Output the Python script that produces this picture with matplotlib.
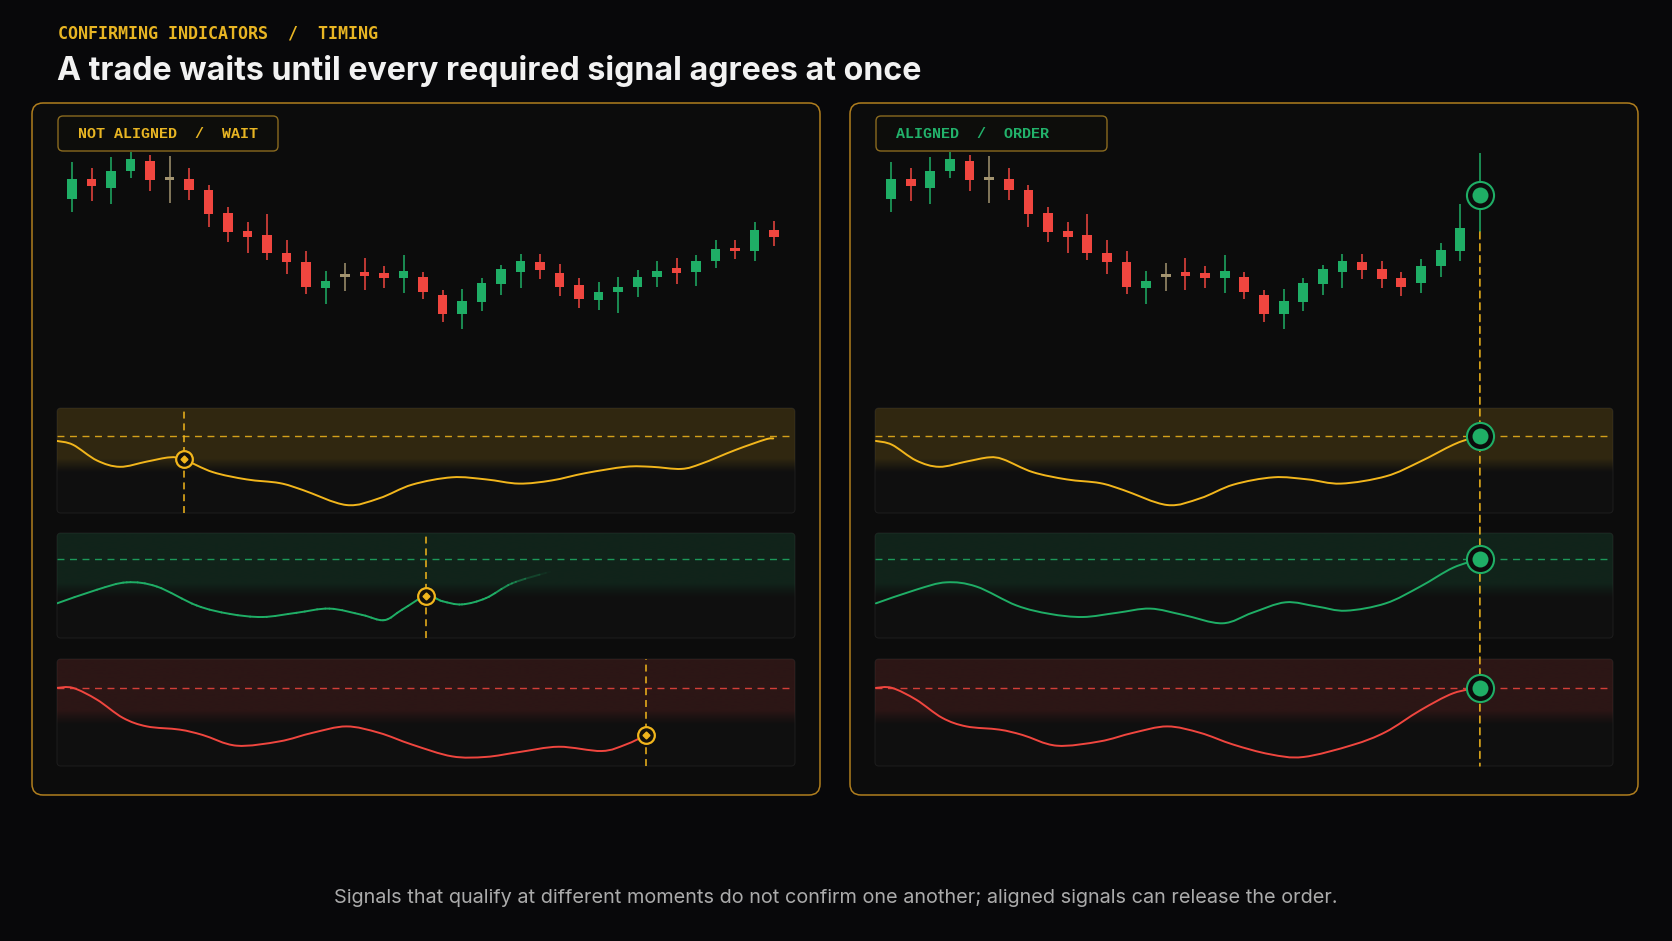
import numpy as np
import matplotlib
matplotlib.use("Agg")
import matplotlib.pyplot as plt
from matplotlib.patches import FancyBboxPatch, ConnectionPatch, PathPatch
from matplotlib.path import Path
from matplotlib.collections import LineCollection
from matplotlib.colors import to_rgba
from matplotlib.transforms import IdentityTransform

plt.rcParams['lines.scale_dashes'] = False

# ---------------- text ----------------
KICKER = "CONFIRMING INDICATORS  /  TIMING"
TITLE = "A trade waits until every required signal agrees at once"
FOOTER = ("Signals that qualify at different moments do not confirm one another; "
          "aligned signals can release the order.")
BADGES = ["NOT ALIGNED  /  WAIT", "ALIGNED  /  ORDER"]

# ---------------- price data (bar index 0..n-1) ----------------
wait_open  = [114.1,116.1,115.2,116.9,117.9,116.2,116.1,115.0,112.7,110.9,110.5,108.7,107.8,105.2,106.5,106.8,106.7,106.2,106.3,104.5,102.6,103.8,105.6,106.8,107.8,106.7,105.5,104.0,104.8,105.3,106.3,107.2,106.8,107.9,109.2,108.9,111.0]
wait_high  = [117.8,117.2,118.3,118.8,118.5,118.4,117.2,115.5,113.3,111.8,112.6,110.0,108.9,106.9,107.7,108.2,107.4,108.5,106.8,105.0,105.1,106.2,107.5,108.6,108.6,107.6,106.2,105.8,106.3,107.0,107.9,108.2,108.5,110.0,110.0,111.8,111.9]
wait_low   = [112.8,113.9,113.6,116.2,114.9,113.7,114.0,111.3,109.8,108.7,108.0,106.6,104.6,103.6,104.9,105.0,105.2,104.7,104.1,101.8,101.1,102.9,104.5,105.2,106.1,104.4,103.2,103.0,102.7,104.3,105.3,105.6,105.4,107.2,108.1,107.9,109.4]
wait_close = [116.1,115.4,116.9,118.1,116.0,116.1,115.0,112.6,110.8,110.3,108.7,107.8,105.3,105.9,106.4,106.4,106.2,106.9,104.8,102.6,103.9,105.7,107.1,107.9,107.0,105.3,104.1,104.8,105.3,106.3,106.9,106.7,107.9,109.1,108.9,111.0,110.3]

order_open  = [114.1,116.1,115.2,116.9,117.9,116.2,116.1,115.0,112.7,110.9,110.5,108.7,107.8,105.2,106.5,106.8,106.7,106.2,106.3,104.5,102.6,103.8,105.6,106.8,107.8,107.1,106.2,105.7,107.4,108.9,113.6]
order_high  = [117.8,117.2,118.3,118.8,118.5,118.4,117.2,115.5,113.3,111.8,112.6,110.0,108.9,106.9,107.7,108.2,107.4,108.5,106.8,105.0,105.1,106.2,107.5,108.6,108.6,107.9,106.8,108.1,109.7,113.6,118.7]
order_low   = [112.8,113.9,113.6,116.2,114.9,113.7,114.0,111.3,109.8,108.7,108.0,106.6,104.6,103.6,104.9,105.0,105.2,104.7,104.1,101.8,101.1,102.9,104.5,105.2,106.1,105.2,104.4,104.7,106.3,107.9,110.8]
order_close = [116.1,115.4,116.9,118.1,116.0,116.1,115.0,112.6,110.8,110.3,108.7,107.8,105.3,105.9,106.4,106.4,106.2,106.9,104.8,102.6,103.9,105.7,107.1,107.9,107.0,106.1,105.3,107.4,109.0,111.2,115.4]

# ---------------- indicator data (x in bar-index units, value 0..100) ----------------
thresholds = [73, 75, 73]
zone_floor = [46, 46, 46]

wait_ind1_x = [-0.77,0.05,1.28,2.46,3.84,5.01,5.73,7.21,8.95,10.64,11.82,14.07,15.75,17.44,19.49,21.23,22.92,24.6,26.34,28.39,29.72,31.25,32.28,34.02,35.55,35.96]
wait_ind1_v = [68.6,65,50,44,49,53,51,39,32,28.5,22,7.6,14,27,34,32,28,31,38,44,44,42,47,60,70,71]
wait_ind2_x = [-0.77,1.28,2.81,4.35,6.39,8.08,9.77,11.51,13.2,14.88,16.01,16.93,18.16,19.0,20.0,21.23,22.56,24.3,24.6]
wait_ind2_v = [33,46,53,49,31,23,20,24,28,22,17,27,40,35,32,38,52,62,63]
wait_ind3_x = [-0.77,0.05,1.28,2.61,3.84,5.52,6.7,8.44,10.64,12.33,14.07,15.75,17.44,19.49,21.23,22.92,24.96,27.16,28.39,29.46]
wait_ind3_v = [73,73,62,45,37,34,29,19,23,31,37,31,20,9,8.5,13,18,14,20,29]
wait_cross_x = [5.73, 18.16, 29.46]

order_ind1_x = [-0.77,0.05,1.28,2.46,3.84,5.01,5.73,7.21,8.95,10.64,11.82,14.07,15.75,17.44,19.49,21.23,22.92,25.22,26.96,28.64,29.6,30.0]
order_ind1_v = [68.6,65,50,44,49,53,51,39,32,28.5,22,7.6,14,27,34,32,28,35,49,65,71.5,73]
order_ind2_x = [-0.77,1.28,2.81,4.35,6.39,8.08,9.77,11.51,13.2,14.88,16.88,18.4,20.1,21.7,23.17,25.2,26.96,28.64,30.0]
order_ind2_v = [33,46,53,49,31,23,20,24,28,22,14,24,34,30,26,33,49,67,75]
order_ind3_x = [-0.77,0.05,1.28,2.61,3.84,5.52,6.7,8.44,10.64,12.33,14.07,15.75,17.44,19.3,21.0,23.5,25.2,26.96,28.64,30.0]
order_ind3_v = [73,73,62,45,37,34,29,19,23,31,37,31,20,11,8.4,19.6,31.8,52,68,73]
order_signal_bar = 30

# ---------------- style ----------------
W, H, DPI = 1672, 941, 100
BG = '#08080a'
PANEL = '#0c0c0c'
PANEL_EDGE = '#b07e1e'
STRIP = '#0f0f0f'
STRIP_EDGE = '#1c1c1c'
GOLD = '#f2b61c'
GREEN = '#1fae66'
RED = '#f0463f'
DOJI = '#a39470'
IND_COLORS = [GOLD, GREEN, RED]
BAND_ALPHA = [0.15, 0.13, 0.13]

fig = plt.figure(figsize=(W / DPI, H / DPI), dpi=DPI, facecolor=BG)


def frac(x0, y0, x1, y1):
    return [x0 / W, 1 - y1 / H, (x1 - x0) / W, (y1 - y0) / H]


bg = fig.add_axes([0, 0, 1, 1])
bg.set_xlim(0, W)
bg.set_ylim(H, 0)
bg.axis('off')

# header / footer
bg.text(58, 33, KICKER, color='#e8b523', fontsize=12, family='DejaVu Sans Mono',
        weight='bold', va='center', ha='left')
bg.text(57, 71, TITLE, color='#f2f2f2', fontsize=23.2, family='Inter', weight='bold',
        va='center', ha='left')
bg.text(W / 2, 898, FOOTER, color='#ababab', fontsize=14.3, family='Inter',
        va='center', ha='center')


def catmull(xs, vs):
    pts = np.column_stack([xs, vs]).astype(float)
    n = len(pts)
    verts = [pts[0]]
    codes = [Path.MOVETO]
    for i in range(n - 1):
        p0 = pts[i - 1] if i > 0 else pts[i]
        p1 = pts[i]
        p2 = pts[i + 1]
        p3 = pts[i + 2] if i + 2 < n else pts[i + 1]
        verts += [p1 + (p2 - p0) / 6, p2 - (p3 - p1) / 6, p2]
        codes += [Path.CURVE4] * 3
    return Path(verts, codes)


def draw_curve(ax, xs, vs, color, lw=1.4, fade_from=None, zorder=3):
    path = catmull(xs, vs)
    if fade_from is None:
        ax.add_patch(PathPatch(path, fill=False, ec=color, lw=lw, capstyle='round',
                               joinstyle='round', zorder=zorder))
        return
    poly = path.to_polygons(transform=ax.transData, closed_only=False)[0]
    xf = ax.transData.transform((fade_from, 0))[0]
    xend = poly[-1, 0]
    segs = np.stack([poly[:-1], poly[1:]], axis=1)
    mid = segs[:, :, 0].mean(axis=1)
    alpha = np.clip((xend - mid) / (xend - xf), 0, 1) ** 1.3
    rgba = np.tile(np.array(to_rgba(color)), (len(segs), 1))
    rgba[:, 3] = alpha
    lc = LineCollection(segs, colors=rgba, linewidths=lw, transform=IdentityTransform(),
                        zorder=zorder, capstyle='round')
    ax.add_collection(lc, autolim=False)


def band(color, a_max, floor):
    v = np.linspace(100, 0, 400)
    a = a_max * np.clip((v - (floor - 8)) / 14, 0, 1) ** 1.2
    img = np.zeros((400, 1, 4))
    img[..., :3] = to_rgba(color)[:3]
    img[..., 3] = a[:, None]
    return img


def draw_candles(ax, o, h, l, c):
    x = np.arange(len(o))
    o, h, l, c = map(np.asarray, (o, h, l, c))
    cols = [DOJI if abs(ci - oi) < 0.15 else (GREEN if ci > oi else RED) for oi, ci in zip(o, c)]
    ax.vlines(x, l, h, colors=cols, lw=1.1, zorder=2)
    body = np.maximum(np.abs(c - o), 0.3)
    mid = (o + c) / 2
    ax.bar(x, body, bottom=mid - body / 2, width=0.5, color=cols, zorder=3, linewidth=0)


STRIP_Y = [(408, 513), (533, 638), (659, 766)]
PANELS = [
    dict(px=32, badge_w=220, text_col='#e8b523', label=BADGES[0],
         xlim=(-0.77, -0.77 + 738 / 19.5),
         ohlc=(wait_open, wait_high, wait_low, wait_close),
         inds=[(wait_ind1_x, wait_ind1_v), (wait_ind2_x, wait_ind2_v), (wait_ind3_x, wait_ind3_v)],
         fades=[None, 21.6, None]),
    dict(px=850, badge_w=231, text_col='#22b26b', label=BADGES[1],
         xlim=(-0.815, -0.815 + 738 / 19.63),
         ohlc=(order_open, order_high, order_low, order_close),
         inds=[(order_ind1_x, order_ind1_v), (order_ind2_x, order_ind2_v), (order_ind3_x, order_ind3_v)],
         fades=[None, None, None]),
]

panel_axes = []
for k, P in enumerate(PANELS):
    px = P['px']
    XL = P['xlim']
    bg.add_patch(FancyBboxPatch((px, 103), 788, 692, boxstyle="round,pad=0,rounding_size=11",
                                fc=PANEL, ec=PANEL_EDGE, lw=1.1, zorder=1))
    bg.add_patch(FancyBboxPatch((px + 26, 116), P['badge_w'], 35,
                                boxstyle="round,pad=0,rounding_size=5",
                                fc='#0d0d0b', ec='#8a6a1f', lw=1.0, zorder=5))
    bg.text(px + 46, 134, P['label'], color=P['text_col'], fontsize=10.8,
            family='Liberation Mono', weight='bold', va='center', ha='left', zorder=6)

    cax = fig.add_axes(frac(px + 25, 140, px + 763, 340))
    cax.set_xlim(*XL)
    cax.set_ylim(100, 120)
    cax.axis('off')
    draw_candles(cax, *P['ohlc'])

    saxes = []
    for j, (y0, y1) in enumerate(STRIP_Y):
        sp = FancyBboxPatch((px + 25, y0), 738, y1 - y0, boxstyle="round,pad=0,rounding_size=4",
                            fc=STRIP, ec=STRIP_EDGE, lw=0.8, zorder=2)
        bg.add_patch(sp)
        sax = fig.add_axes(frac(px + 25, y0, px + 763, y1))
        sax.set_xlim(*XL)
        sax.set_ylim(0, 100)
        sax.axis('off')
        col = IND_COLORS[j]
        im = sax.imshow(band(col, BAND_ALPHA[j], zone_floor[j]), extent=(XL[0], XL[1], 0, 100),
                        aspect='auto', origin='upper', interpolation='bilinear', zorder=0.5)
        im.set_clip_path(sp)
        sax.axhline(thresholds[j], color=col, lw=1.0, ls=(0, (5, 4)), alpha=0.85, zorder=2)
        xs, vs = P['inds'][j]
        draw_curve(sax, xs, vs, col, fade_from=P['fades'][j])
        if k == 0:
            cx = wait_cross_x[j]
            cv = vs[list(xs).index(cx)]
            sax.axvline(cx, color=GOLD, lw=1.1, ls=(0, (5, 3.5)), zorder=3.5)
            sax.plot([cx], [cv], 'o', ms=12, mfc='#14110a', mec=GOLD, mew=1.6, zorder=4)
            sax.plot([cx], [cv], 'D', ms=3.5, color=GOLD, zorder=4.5)
        saxes.append(sax)
    panel_axes.append((cax, saxes))

# overlay for the aligned signal
ov = fig.add_axes([0, 0, 1, 1], zorder=10)
ov.set_xlim(0, 1)
ov.set_ylim(0, 1)
ov.axis('off')
cax, saxes = panel_axes[1]
sb = order_signal_bar
con = ConnectionPatch(xyA=(sb, order_low[sb]), coordsA=cax.transData,
                      xyB=(sb, 0), coordsB=saxes[2].transData,
                      color=GOLD, lw=1.1, ls=(0, (5, 3.5)))
ov.add_artist(con)
marks = [(cax, (order_open[sb] + order_close[sb]) / 2)] + \
        [(saxes[j], thresholds[j]) for j in range(3)]
for axm, yv in marks:
    ov.plot([sb], [yv], 'o', ms=19.5, mfc='#0c0c0c', mec=GREEN, mew=1.5,
            transform=axm.transData, clip_on=False, zorder=5)
    ov.plot([sb], [yv], 'o', ms=11.5, mfc=GREEN, mec=GREEN, mew=0,
            transform=axm.transData, clip_on=False, zorder=6)

fig.savefig('out.png', dpi=DPI, facecolor=BG)
